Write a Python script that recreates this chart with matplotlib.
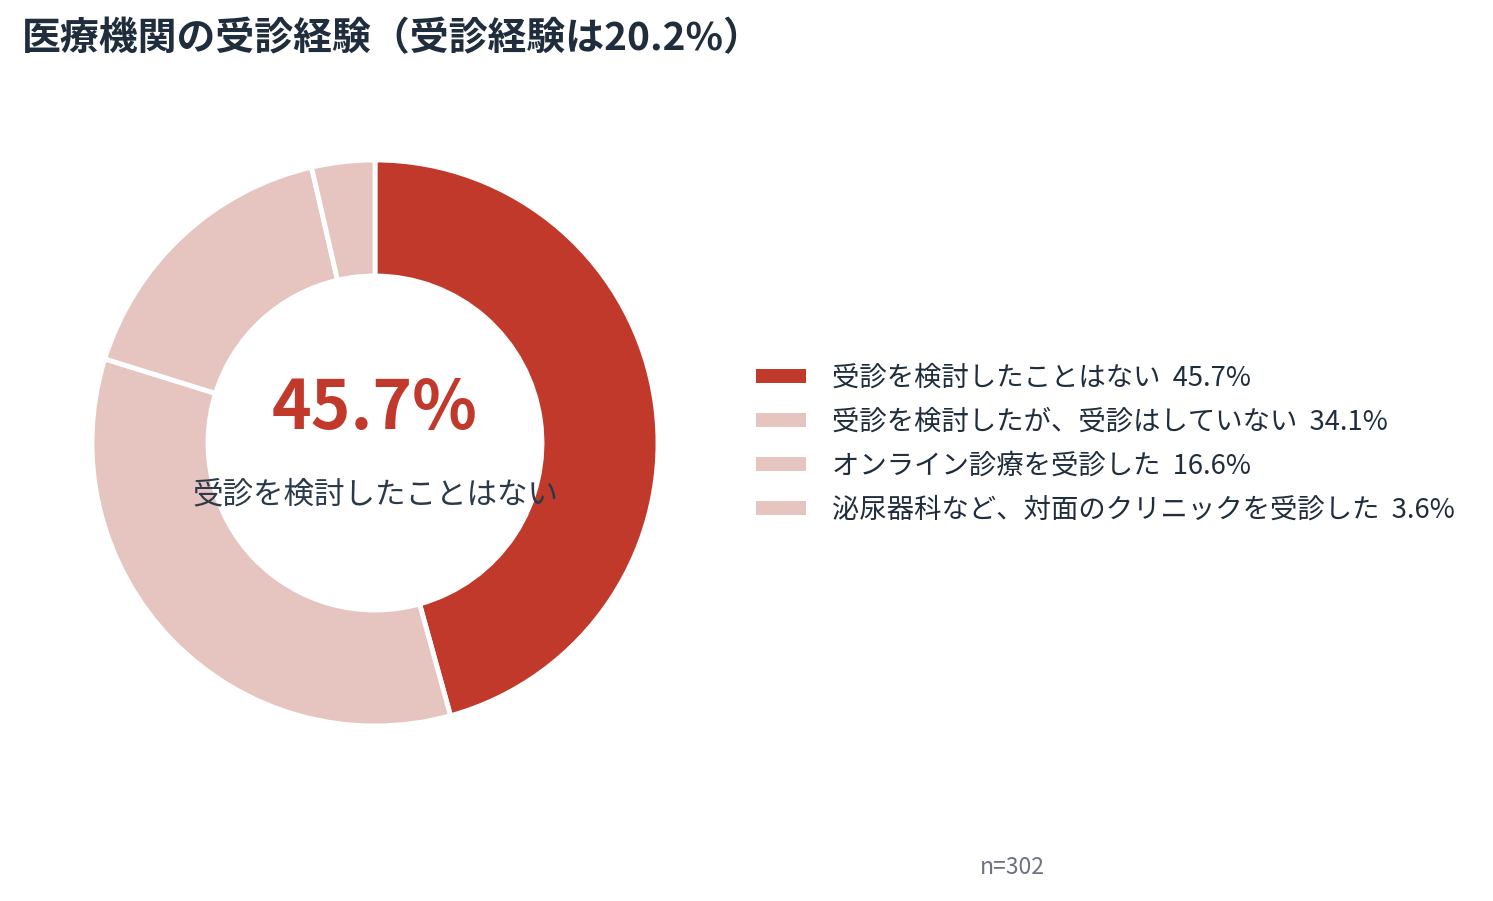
import matplotlib.pyplot as plt
from matplotlib.patches import Rectangle

plt.rcParams['font.family'] = ['Noto Sans CJK JP', 'DejaVu Sans']

# data
labels = ['受診を検討したことはない', '受診を検討したが、受診はしていない',
          'オンライン診療を受診した', '泌尿器科など、対面のクリニックを受診した']
values = [45.7, 34.1, 16.6, 3.6]
colors = ['#C0392B', '#E6C4C0', '#E6C4C0', '#E6C4C0']
title = '医療機関の受診経験（受診経験は20.2%）'
note = 'n=302'

W, H = 1493, 901
fig = plt.figure(figsize=(W / 100, H / 100), dpi=100)
fig.patch.set_facecolor('white')

# donut: center (375, 443) px, radius 282 px
cx, cy, r = 375, 443, 283
ax = fig.add_axes([(cx - r) / W, (H - cy - r) / H, 2 * r / W, 2 * r / H])
ax.pie(values, colors=colors, startangle=90, counterclock=False, radius=1,
       wedgeprops=dict(width=1 - 167 / 283, edgecolor='white', linewidth=3.5))
ax.set_xlim(-1, 1)
ax.set_ylim(-1, 1)
ax.set_aspect('equal')
ax.axis('off')

# center text
fig.text(cx / W, 1 - 409 / H, f'{values[0]}%', ha='center', va='center',
         fontsize=48.5, fontweight='bold', color=colors[0])
fig.text(cx / W, 1 - 495 / H, labels[0], ha='center', va='center',
         fontsize=22, color='#2B3A4A')

# title
fig.text(22 / W, 1 - 39 / H, title, ha='left', va='center',
         fontsize=28, fontweight='bold', color='#1F2D3D')

# legend
for i, (lab, v, c) in enumerate(zip(labels, values, colors)):
    y = 376 + i * 44
    fig.patches.append(Rectangle((756 / W, 1 - (y + 7) / H), 50 / W, 14 / H,
                                 transform=fig.transFigure, facecolor=c,
                                 edgecolor='none'))
    fig.text(832 / W, 1 - (y + 2) / H, f'{lab}  {v}%', ha='left', va='center',
             fontsize=19.7, color='#1F2D3D')

fig.text(1012 / W, 1 - 867 / H, note, ha='center', va='center',
         fontsize=16.5, color='#6B7280')

plt.savefig('out.png', dpi=100)
plt.close()
